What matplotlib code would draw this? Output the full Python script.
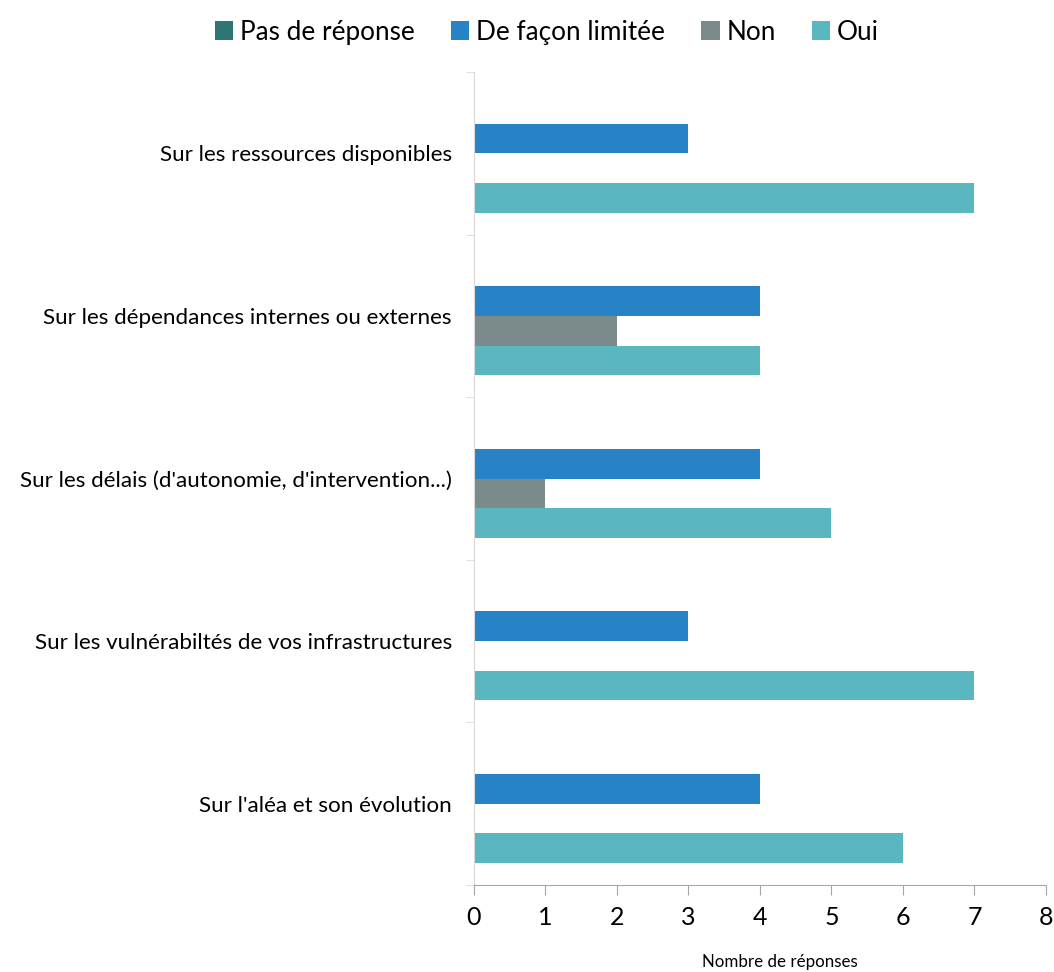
import numpy as np
import matplotlib
matplotlib.use("Agg")
import matplotlib.pyplot as plt
from matplotlib.patches import Patch

plt.rcParams['font.family'] = ['Lato', 'DejaVu Sans']

# =====================
# data
# =====================
categories = [
    "Sur les ressources disponibles",
    "Sur les dépendances internes ou externes",
    "Sur les délais (d'autonomie, d'intervention...)",
    "Sur les vulnérabiltés de vos infrastructures",
    "Sur l'aléa et son évolution",
]
series_names = ["Pas de réponse", "De façon limitée", "Non", "Oui"]
pas_de_reponse = [0, 0, 0, 0, 0]
limitee = [3, 4, 4, 3, 4]
non = [0, 2, 1, 0, 0]
oui = [7, 4, 5, 7, 6]
colors = ["#2E7576", "#2783C6", "#7B8A8B", "#5AB6BF"]

values = [pas_de_reponse, limitee, non, oui]

# =====================
# figure
# =====================
fig = plt.figure(figsize=(10.54, 9.72), dpi=100)
ax = fig.add_axes([0.4497, 0.0895, 0.5427, 0.8364])

y = np.arange(len(categories))
h = 0.1825
for i, (vals, col) in enumerate(zip(values, colors)):
    ax.barh(y + (i - 1.5) * h, vals, height=h, color=col, edgecolor="none")

ax.set_xlim(0, 8)
ax.set_ylim(len(categories) - 0.5, -0.5)
ax.set_xticks(range(0, 9))
ax.tick_params(axis="x", labelsize=18, length=7, color="#A6A6A6", pad=8)

ax.set_yticks(y)
ax.set_yticklabels(categories, fontsize=16.1)
ax.tick_params(axis="y", which="major", length=0, pad=16)
ax.set_yticks(np.arange(-0.5, len(categories)), minor=True)
ax.tick_params(axis="y", which="minor", length=6, color="#D9D9D9")

for s in ["top", "right"]:
    ax.spines[s].set_visible(False)
ax.spines["left"].set_color("#D9D9D9")
ax.spines["bottom"].set_color("#A6A6A6")

ax.set_xlabel("Nombre de réponses", fontsize=12.2)
ax.xaxis.set_label_coords(0.535, -0.085)

handles = [Patch(facecolor=c, edgecolor="none") for c in colors]
fig.legend(handles, series_names, loc="center", ncol=4,
           bbox_to_anchor=(0.519, 0.967), frameon=False, fontsize=18.8,
           handlelength=0.7, handleheight=0.7, handletextpad=0.25,
           columnspacing=1.4)

plt.savefig("out.png", dpi=100)
